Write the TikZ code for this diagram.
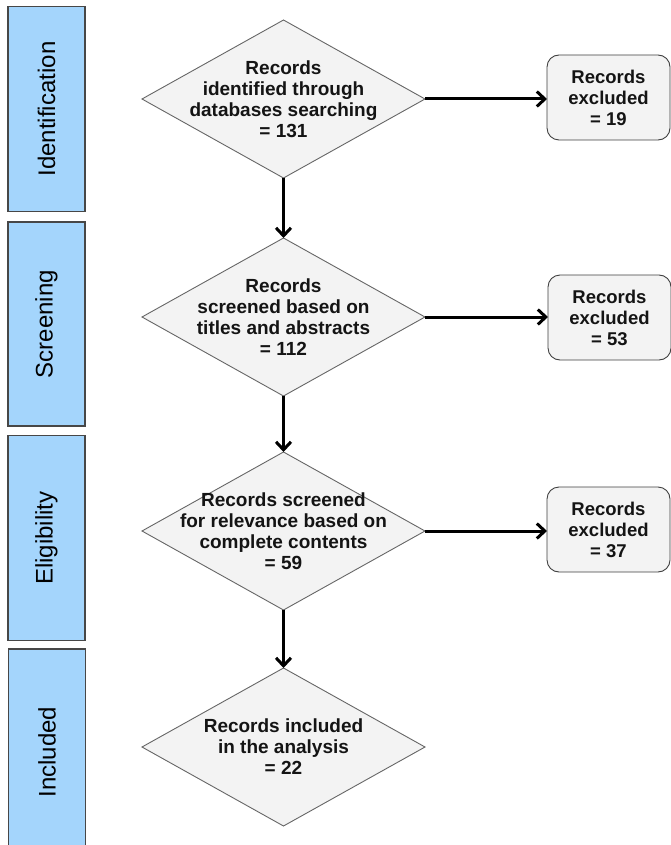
\documentclass[tikz,border=0pt]{standalone}
\usepackage{fontspec}
\setmainfont{Liberation Sans}
\usetikzlibrary{shapes.geometric,arrows.meta}
\definecolor{stageblue}{RGB}{164,213,252}
\definecolor{shapegray}{RGB}{243,243,243}
\definecolor{inkdark}{RGB}{20,20,20}
\begin{document}
\begin{tikzpicture}[x=1pt,y=-1pt,
  stagebox/.style={draw=black!72,line width=1.3pt,fill=stageblue,minimum width=77pt,inner sep=0pt,outer sep=0pt,
    font=\fontsize{24}{28}\selectfont},
  diam/.style={diamond,draw=black!60,line width=0.9pt,fill=shapegray,minimum width=283pt,minimum height=158pt,inner sep=0pt,outer sep=0pt},
  diamtext/.style={font=\bfseries\fontsize{19}{21}\selectfont,align=center,text=inkdark},
  exbox/.style={draw=black!75,line width=0.9pt,fill=shapegray,rounded corners=12pt,minimum width=123pt,minimum height=85pt,inner sep=0pt,outer sep=0pt,
    font=\bfseries\fontsize{18.5}{21}\selectfont,align=center,text=inkdark},
  flow/.style={line width=3pt,-{Straight Barb[length=8pt,width=15pt,line width=3pt]}}]
\useasboundingbox (0,0) rectangle (671,845);
\clip (0,0) rectangle (671,845);
\fill[white] (0,0) rectangle (671,845);

% stage boxes
\node[stagebox,minimum height=205pt] (s1) at (46.5,109) {\rotatebox{90}{Identification}};
\node[stagebox,minimum height=204pt] (s2) at (46.5,324) {\rotatebox{90}{Screening}};
\node[stagebox,minimum height=205pt] (s3) at (46.5,538) {\rotatebox{90}{Eligibility}};
\node[stagebox,minimum height=206pt] (s4) at (47,752) {\rotatebox{90}{Included}};

% diamonds
\node[diam] (d1) at (283.5,99) {};
\node[diamtext] (t1) at (d1) {Records\\identified through\\databases searching\\= 131};
\node[diam] (d2) at (283.5,317) {};
\node[diamtext] (t2) at (d2) {Records\\screened based on\\titles and abstracts\\= 112};
\node[diam] (d3) at (283.5,531) {};
\node[diamtext] (t3) at (d3) {Records screened\\for relevance based on\\complete contents\\= 59};
\node[diam] (d4) at (283.5,747) {};
\node[diamtext] (t4) at (d4) {Records included\\in the analysis\\= 22};

% excluded boxes
\node[exbox] (b1) at (608.5,97.5) {Records\\excluded\\= 19};
\node[exbox] (b2) at (609.5,317.5) {Records\\excluded\\= 53};
\node[exbox] (b3) at (608.5,529.5) {Records\\excluded\\= 37};

% connectors
\draw[flow] (d1.south) -- (d2.north);
\draw[flow] (d2.south) -- (d3.north);
\draw[flow] (d3.south) -- (d4.north);
\draw[flow] (d1.east) -- (b1.west |- d1.east);
\draw[flow] (d2.east) -- (b2.west |- d2.east);
\draw[flow] (d3.east) -- (b3.west |- d3.east);
\end{tikzpicture}
\end{document}
